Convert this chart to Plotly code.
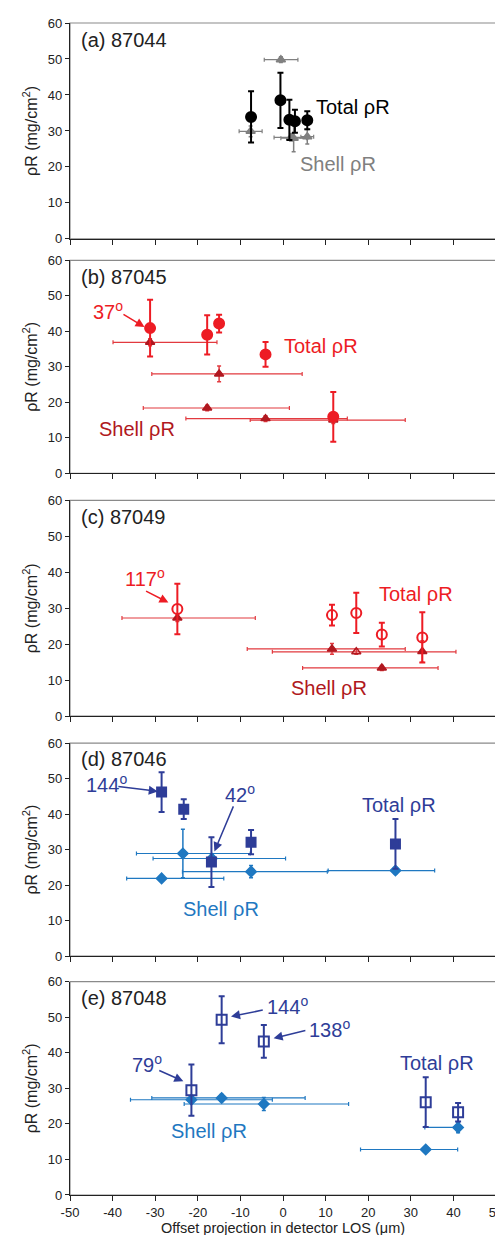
import plotly.graph_objects as go

# ---------------- data ----------------
# (a) 87044
a_total_x = [-7.5, -0.6, 1.5, 2.8, 5.7]
a_total_y = [33.9, 38.5, 33.1, 32.7, 33.0]
a_total_yerr = [7.1, 7.7, 5.6, 3.2, 2.5]
a_shell_x = [-7.6, -0.5, 1.9, 2.5, 5.7]
a_shell_y = [29.9, 49.8, 28.2, 28.0, 28.4]
a_shell_yerr = [1.5, 0.8, 1.0, 3.8, 2.0]
a_shell_xminus = [2.7, 3.9, 4.0, 3.0, 1.5]
a_shell_xplus = [2.7, 4.0, 4.0, 3.0, 1.5]

# (b) 87045
b_total_x = [-31.2, -17.8, -15.0, -4.1, 11.8]
b_total_y = [40.9, 39.0, 42.2, 33.5, 15.9]
b_total_yerr = [8.0, 5.5, 2.5, 3.5, 7.0]
b_shell_x = [-31.2, -15.0, -17.8, -4.1, 11.8]
b_shell_y = [36.9, 28.0, 18.4, 15.4, 15.0]
b_shell_yerr = [1.0, 2.2, 0.8, 0.8, 1.0]
b_shell_xminus = [8.7, 15.8, 15.0, 18.7, 19.5]
b_shell_xplus = [15.7, 19.5, 19.3, 19.2, 16.9]

# (c) 87049
c_total_x = [-24.8, 11.5, 17.2, 23.2, 32.7]
c_total_y = [29.8, 28.1, 28.7, 22.7, 21.9]
c_total_yerr = [7.0, 2.9, 5.6, 3.3, 7.0]
c_shell_x = [-24.8, 11.5, 17.2, 23.2, 32.7]
c_shell_y = [27.3, 18.7, 17.9, 13.4, 18.0]
c_shell_yerr = [1.0, 1.5, 0.7, 0.7, 3.0]
c_shell_xminus = [13.0, 19.9, 19.7, 18.6, 0.0]
c_shell_xplus = [18.3, 17.2, 23.4, 13.2, 0.0]

# (d) 87046
d_total_x = [-28.5, -23.3, -16.8, -7.5, 26.4]
d_total_y = [46.2, 41.4, 26.5, 32.1, 31.6]
d_total_yerr = [5.6, 2.8, 7.0, 3.4, 7.0]
d_shell_x = [-28.5, -23.5, -16.7, -7.5, 26.4]
d_shell_y = [21.9, 28.9, 27.5, 23.8, 24.1]
d_shell_yerr = [0.5, 6.8, 1.0, 1.7, 0.9]
d_shell_xminus = [8.2, 10.9, 13.8, 16.1, 15.8]
d_shell_xplus = [14.6, 15.8, 17.3, 17.9, 9.2]

# (e) 87048
e_total_x = [-14.4, -4.5, -21.5, 33.5, 41.1]
e_total_y = [49.3, 43.2, 29.5, 26.1, 23.3]
e_total_yerr = [6.6, 4.6, 7.2, 7.0, 2.6]
e_shell_x = [-21.5, -14.4, -4.5, 41.1, 33.5]
e_shell_y = [26.8, 27.3, 25.6, 19.0, 12.8]
e_shell_yerr = [1.0, 1.0, 1.8, 1.5, 0.5]
e_shell_xminus = [14.3, 16.4, 18.7, 7.8, 15.3]
e_shell_xplus = [19.0, 19.6, 19.9, 0.0, 7.5]

x_ticks = [-50, -40, -30, -20, -10, 0, 10, 20, 30, 40, 50]
x_ticktext = ["-50", "-40", "-30", "-20", "-10", "0", "10", "20", "30", "40", "50"]
y_ticks = [0, 10, 20, 30, 40, 50, 60]
panel_labels = ["(a) 87044", "(b) 87045", "(c) 87049", "(d) 87046", "(e) 87048"]

# ---------------- styles ----------------
BLACK = "#000000"
GRAY = "#808080"
RED = "#ed1c24"
DRED = "#b01820"
RED_ERR = "#e23a3f"
DBLUE = "#2e3d98"
LBLUE = "#1f78c1"
FONT = "Liberation Sans, Arial, sans-serif"

domains = [(0.8158, 1.0), (0.6158, 0.7975), (0.4086, 0.5926), (0.2038, 0.3856), (0.0, 0.1820)]

panels = [
    dict(tx=a_total_x, ty=a_total_y, tye=a_total_yerr, sx=a_shell_x, sy=a_shell_y, sye=a_shell_yerr,
         sxm=a_shell_xminus, sxp=a_shell_xplus, tcol=BLACK, tsym="circle", scol=GRAY, ssym="triangle-up",
         serr=GRAY, tsize=10),
    dict(tx=b_total_x, ty=b_total_y, tye=b_total_yerr, sx=b_shell_x, sy=b_shell_y, sye=b_shell_yerr,
         sxm=b_shell_xminus, sxp=b_shell_xplus, tcol=RED, tsym="circle", scol=DRED, ssym="triangle-up",
         serr=RED_ERR, tsize=10),
    dict(tx=c_total_x, ty=c_total_y, tye=c_total_yerr, sx=c_shell_x, sy=c_shell_y, sye=c_shell_yerr,
         sxm=c_shell_xminus, sxp=c_shell_xplus, tcol=RED, tsym="circle-open", scol=DRED,
         ssym=["triangle-up", "triangle-up", "triangle-up-open", "triangle-up", "triangle-up"],
         serr=RED_ERR, tsize=10),
    dict(tx=d_total_x, ty=d_total_y, tye=d_total_yerr, sx=d_shell_x, sy=d_shell_y, sye=d_shell_yerr,
         sxm=d_shell_xminus, sxp=d_shell_xplus, tcol=DBLUE, tsym="square", scol=LBLUE, ssym="diamond",
         serr=LBLUE, tsize=9),
    dict(tx=e_total_x, ty=e_total_y, tye=e_total_yerr, sx=e_shell_x, sy=e_shell_y, sye=e_shell_yerr,
         sxm=e_shell_xminus, sxp=e_shell_xplus, tcol=DBLUE, tsym="square-open", scol=LBLUE, ssym="diamond",
         serr=LBLUE, tsize=10),
]

fig = go.Figure()
annotations = []
shapes = []

for i, p in enumerate(panels):
    n = i + 1
    xa = "x" if n == 1 else f"x{n}"
    ya = "y" if n == 1 else f"y{n}"
    # shell
    fig.add_trace(go.Scatter(
        x=p["sx"], y=p["sy"], xaxis=xa, yaxis=ya, mode="markers", showlegend=False,
        marker=dict(symbol=p["ssym"], size=8, color=p["scol"], line=dict(width=1.5, color=p["scol"])),
        error_x=dict(type="data", symmetric=False, array=p["sxp"], arrayminus=p["sxm"],
                     color=p["serr"], thickness=1.2, width=2),
        error_y=dict(type="data", array=p["sye"], color=p["serr"], thickness=1.5, width=2),
    ))
    # total
    fig.add_trace(go.Scatter(
        x=p["tx"], y=p["ty"], xaxis=xa, yaxis=ya, mode="markers", showlegend=False,
        marker=dict(symbol=p["tsym"], size=p["tsize"], color=p["tcol"], line=dict(width=2, color=p["tcol"])),
        error_y=dict(type="data", array=p["tye"], color=p["tcol"], thickness=2, width=3),
    ))
    # box frame (gray)
    shapes.append(dict(type="rect", xref=f"{xa} domain", yref=f"{ya} domain", x0=0, x1=1, y0=0, y1=1,
                       line=dict(color="#8a8a8a", width=1.2), layer="below"))
    annotations.append(dict(xref=xa, yref=ya, x=-47.8, y=55.4, text=panel_labels[i], showarrow=False,
                            xanchor="left", yanchor="middle", font=dict(size=20, color="#222222", family=FONT)))
    lay_x = dict(range=[-50, 50], tickvals=x_ticks, ticktext=x_ticktext, ticks="outside", ticklen=5,
                 tickwidth=1, tickcolor="#222222", showline=True, linecolor="#222222", linewidth=1.2,
                 showgrid=False, zeroline=False, anchor=ya, domain=[0, 1], showticklabels=(n == 5),
                 tickfont=dict(size=13, color="#222222", family=FONT))
    lay_y = dict(range=[0, 60], tickvals=y_ticks, ticks="outside", ticklen=4, tickwidth=1,
                 tickcolor="#222222", showline=True, linecolor="#222222", linewidth=1.2, showgrid=False,
                 zeroline=False, anchor=xa, domain=list(domains[i]),
                 tickfont=dict(size=13, color="#222222", family=FONT),
                 title=dict(text="ρR (mg/cm<sup>2</sup>)", standoff=6,
                            font=dict(size=16, color="#222222", family=FONT)))
    if n == 5:
        lay_x["title"] = dict(text="Offset projection in detector LOS (μm)", standoff=4,
                              font=dict(size=14.5, color="#222222", family=FONT))
    fig.update_layout(**{("xaxis" if n == 1 else f"xaxis{n}"): lay_x,
                         ("yaxis" if n == 1 else f"yaxis{n}"): lay_y})


def txt(n, x, y, text, color, size=20):
    xa = "x" if n == 1 else f"x{n}"
    ya = "y" if n == 1 else f"y{n}"
    annotations.append(dict(xref=xa, yref=ya, x=x, y=y, text=text, showarrow=False,
                            font=dict(size=size, color=color, family=FONT)))


def arrow(n, x0, y0, x1, y1, color):
    xa = "x" if n == 1 else f"x{n}"
    ya = "y" if n == 1 else f"y{n}"
    annotations.append(dict(xref=xa, yref=ya, axref=xa, ayref=ya, x=x1, y=y1, ax=x0, ay=y0, text="",
                            showarrow=True, arrowhead=2, arrowsize=1.2, arrowwidth=1.5, arrowcolor=color))


# (a)
txt(1, 16.5, 36.7, "Total ρR", BLACK)
txt(1, 12.9, 20.9, "Shell ρR", GRAY)
# (b)
txt(2, 9.0, 35.8, "Total ρR", RED)
txt(2, -34.3, 12.5, "Shell ρR", DRED)
txt(2, -41.0, 46.0, "37<sup>o</sup>", RED)
arrow(2, -37.8, 45.0, -32.5, 41.2, RED)
# (c)
txt(3, 31.3, 34.1, "Total ρR", RED)
txt(3, 10.8, 7.7, "Shell ρR", DRED)
txt(3, -32.5, 38.5, "117<sup>o</sup>", RED)
arrow(3, -32.5, 35.0, -26.9, 31.6, RED)
# (d)
txt(4, 27.3, 42.5, "Total ρR", DBLUE)
txt(4, -14.5, 13.4, "Shell ρR", LBLUE)
txt(4, -41.5, 48.7, "144<sup>o</sup>", DBLUE)
arrow(4, -39.0, 47.8, -29.4, 46.4, DBLUE)
txt(4, -10.0, 45.9, "42<sup>o</sup>", DBLUE)
arrow(4, -11.5, 42.6, -16.1, 29.5, DBLUE)
# (e)
txt(5, 36.2, 37.1, "Total ρR", DBLUE)
txt(5, -17.3, 17.9, "Shell ρR", LBLUE)
txt(5, 1.0, 53.3, "144<sup>o</sup>", DBLUE)
arrow(5, -4.4, 52.1, -12.2, 50.2, DBLUE)
txt(5, 11.0, 46.9, "138<sup>o</sup>", DBLUE)
arrow(5, 5.6, 46.4, -2.2, 44.1, DBLUE)
txt(5, -31.9, 37.1, "79<sup>o</sup>", DBLUE)
arrow(5, -29.4, 35.2, -23.4, 32.0, DBLUE)

fig.update_layout(
    width=503, height=1235,
    margin=dict(l=62, r=8, t=13, b=48),
    paper_bgcolor="white", plot_bgcolor="white",
    annotations=annotations, shapes=shapes,
    font=dict(family=FONT, color="#222222"),
    showlegend=False,
)

fig.write_html("out.html")
